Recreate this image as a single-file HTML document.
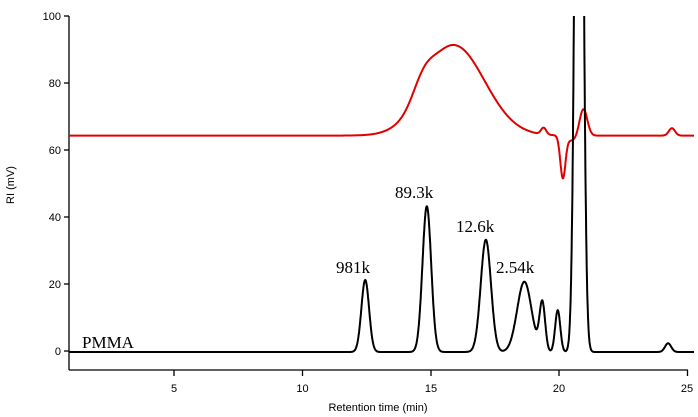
<!DOCTYPE html>
<html><head><meta charset="utf-8"><style>
body{margin:0;background:#fff}
svg{display:block}
</style></head><body>
<svg id="s" width="698" height="417" xmlns="http://www.w3.org/2000/svg">
<g stroke="#000" stroke-width="1.3" fill="none">
<line x1="69" y1="16" x2="69" y2="370"/>
<line x1="69" y1="370" x2="688" y2="370"/>
<line x1="64" y1="16" x2="69" y2="16"/>
<line x1="64" y1="83" x2="69" y2="83"/>
<line x1="64" y1="150" x2="69" y2="150"/>
<line x1="64" y1="217" x2="69" y2="217"/>
<line x1="64" y1="284" x2="69" y2="284"/>
<line x1="64" y1="351" x2="69" y2="351"/>
<line x1="174" y1="370" x2="174" y2="376"/>
<line x1="302.5" y1="370" x2="302.5" y2="376"/>
<line x1="431" y1="370" x2="431" y2="376"/>
<line x1="559" y1="370" x2="559" y2="376"/>
<line x1="687.5" y1="370" x2="687.5" y2="376"/>
</g>
<g font-family="Liberation Sans, sans-serif" font-size="11" fill="#000">
<text x="61" y="20" text-anchor="end">100</text>
<text x="61" y="87" text-anchor="end">80</text>
<text x="61" y="154" text-anchor="end">60</text>
<text x="61" y="221" text-anchor="end">40</text>
<text x="61" y="288" text-anchor="end">20</text>
<text x="61" y="355" text-anchor="end">0</text>
<text x="174" y="392" text-anchor="middle">5</text>
<text x="302.5" y="392" text-anchor="middle">10</text>
<text x="431" y="392" text-anchor="middle">15</text>
<text x="559" y="392" text-anchor="middle">20</text>
<text x="687" y="392" text-anchor="middle">25</text>
<text x="378" y="411" text-anchor="middle">Retention time (min)</text>
<text transform="translate(14,185) rotate(-90)" text-anchor="middle">RI (mV)</text>
</g>
<defs><clipPath id="c"><rect x="69" y="16" width="625" height="354"/></clipPath></defs>
<g clip-path="url(#c)" fill="none" stroke-width="2" stroke-linejoin="round">
<path id="red" stroke="#e00000"/>
<path id="blk" stroke="#000"/>
</g>
<g font-family="Liberation Serif, serif" font-size="17" fill="#000">
<text x="336" y="273">981k</text>
<text x="395" y="198">89.3k</text>
<text x="456" y="232">12.6k</text>
<text x="496" y="273">2.54k</text>
<text x="82" y="348">PMMA</text>
</g>
<script>
function X(t){return 174+(t-5)*25.667}
function Y(v){return 351-v*3.35}
function g(t,c,h,s){return h*Math.exp(-(t-c)*(t-c)/(2*s*s))}
var bp=[[12.45,21.5,0.15],[14.85,43.5,0.17],[17.15,33.5,0.2],[18.65,21,0.28],[19.35,14.5,0.11],[19.95,12.5,0.1],[20.78,300,0.135],[24.25,2.6,0.12]];
function blk(t){var v=-0.3;for(var p of bp)v+=g(t,p[0],p[1],p[2]);return v}
function red(t){var v=64.3;var s=t<15.9?1.1:1.2;v+=g(t,15.9,27,s)+g(t,14.7,5,0.4);
v+=g(t,19.4,2,0.1)-g(t,20.15,12.5,0.1)+g(t,20.95,8,0.15)+g(t,24.4,2.2,0.12)-g(t,20.5,1.5,0.2);return v}
function path(f){var d="";for(var t=0.9;t<=25.3;t+=0.01){d+=(d?"L":"M")+X(t).toFixed(1)+" "+Y(f(t)).toFixed(1)}return d}
document.getElementById("red").setAttribute("d",path(red));
document.getElementById("blk").setAttribute("d",path(blk));
</script>
</svg>
</body></html>
